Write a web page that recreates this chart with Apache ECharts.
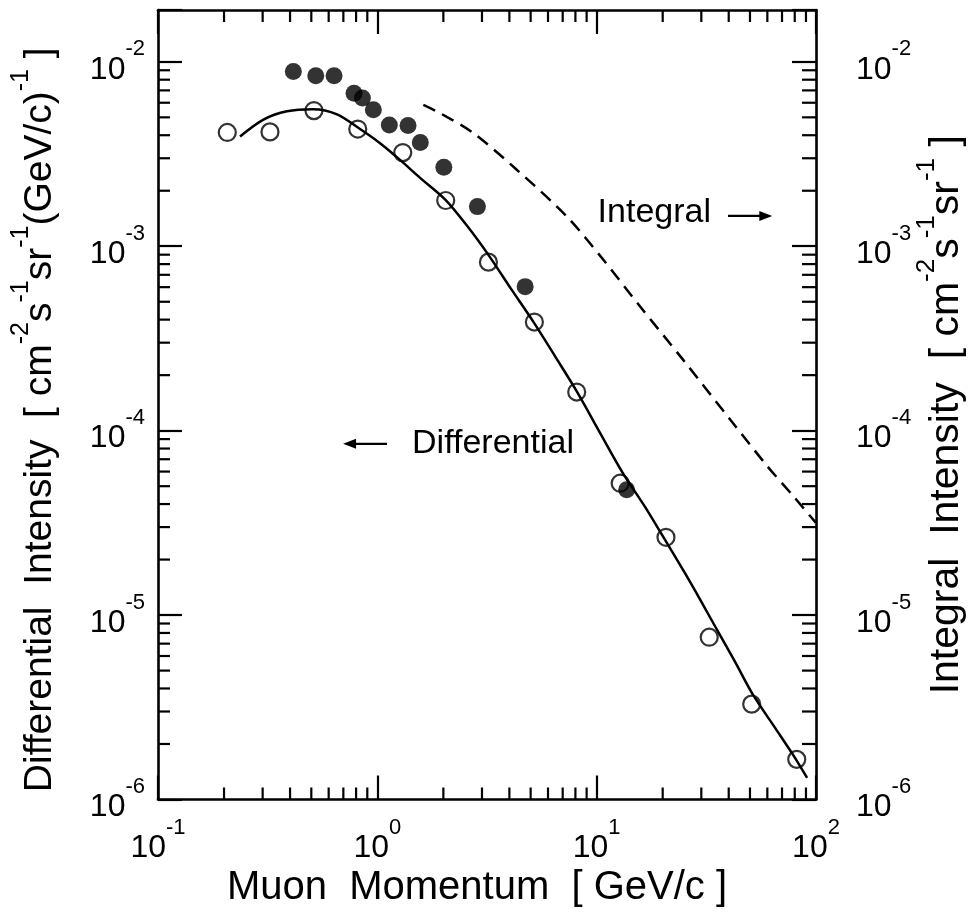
<!DOCTYPE html>
<html><head><meta charset="utf-8">
<script src="https://cdn.jsdelivr.net/npm/echarts@6/dist/echarts.min.js"></script>
<style>html,body{margin:0;padding:0;background:#fff}#c{width:969px;height:913px}</style>
</head><body><div id="c"></div>
<script>
// ---- data ----
const xRange = [0.1, 100];
const yRange = [1e-6, 0.0191];

const openMomentum = [0.207, 0.324, 0.514, 0.814, 1.306, 2.05, 3.21, 5.2, 8.11, 12.8, 20.7, 32.6, 50.9, 81.7];
const openIntensity = [4.14e-3, 4.17e-3, 5.44e-3, 4.32e-3, 3.22e-3, 1.77e-3, 8.2e-4, 3.88e-4, 1.62e-4, 5.19e-5, 2.64e-5, 7.59e-6, 3.29e-6, 1.65e-6];

const filledMomentum = [0.414, 0.524, 0.635, 0.783, 0.855, 0.959, 1.134, 1.38, 1.57, 2.01, 2.86, 4.72, 13.7];
const filledIntensity = [8.86e-3, 8.4e-3, 8.4e-3, 6.76e-3, 6.36e-3, 5.49e-3, 4.55e-3, 4.51e-3, 3.65e-3, 2.68e-3, 1.64e-3, 6.04e-4, 4.78e-5];

const diffCurveMomentum = [0.2366, 0.3012, 0.3875, 0.509, 0.655, 0.834, 1.029, 1.269, 1.566, 2.04, 2.565, 3.232, 4.072, 5.183, 6.53, 8.14, 10.36, 13.06, 16.62, 19.87, 26.66, 35.4, 42.77, 51.67, 65.11, 78.63, 91.09];
const diffCurveIntensity = [3.94e-3, 4.85e-3, 5.39e-3, 5.53e-3, 5.19e-3, 4.32e-3, 3.62e-3, 2.94e-3, 2.35e-3, 1.79e-3, 1.29e-3, 8.87e-4, 5.87e-4, 3.84e-4, 2.48e-4, 1.623e-4, 9.73e-5, 5.98e-5, 3.86e-5, 2.72e-5, 1.514e-5, 8.31e-6, 5.57e-6, 3.69e-6, 2.445e-6, 1.745e-6, 1.31e-6];

const intCurveMomentum = [1.621, 1.932, 2.74, 4.32, 7.31, 10.73, 15.78, 24.8, 40.6, 59.84, 78.63, 100];
const intCurveIntensity = [5.84e-3, 5.27e-3, 4.11e-3, 2.60e-3, 1.45e-3, 8.44e-4, 4.71e-4, 2.42e-4, 1.15e-4, 6.44e-5, 4.43e-5, 3.16e-5];

const xTitle = 'Muon  Momentum  [ GeV/c ]';
const yLeftTitleParts = [['Differential  Intensity  [ cm', '-2'], ['s', '-1'], ['sr', '-1'], ['(GeV/c)', '-1'], [' ]', '']];
const yRightTitleParts = [['Integral  Intensity  [ cm', '-2'], ['s', '-1'], ['sr', '-1'], [' ]', '']];

const integralNote = { text: 'Integral', x: 10.1, y: 1.52e-3 };
const integralArrow = { from: 39.7, to: 63.2, y: 1.46e-3 };
const diffNote = { text: 'Differential', x: 1.44, y: 8.48e-5 };
const diffArrow = { from: 1.107, to: 0.698, y: 8.48e-5 };

// ---- chart ----
const FONT = '"Liberation Sans", Arial, Helvetica, sans-serif';
const zip = (a, b) => a.map((v, i) => [v, b[i]]);

function powLabel(v) {
  const e = Math.log10(v), r = Math.round(e);
  if (Math.abs(e - r) > 1e-6) return '';
  return '{n|10}{s|' + r + '}';
}
const tickRich = {
  n: { fontSize: 32, height: 32, lineHeight: 32, fontFamily: FONT, color: '#000', verticalAlign: 'bottom' },
  s: { fontSize: 22, height: 23, lineHeight: 48, fontFamily: FONT, color: '#000', verticalAlign: 'top', padding: [0, 0, 25, 0] }
};
const nameRich = (fs) => ({
  n: { fontSize: fs, height: fs, lineHeight: fs, fontFamily: FONT, color: '#000', verticalAlign: 'bottom' },
  s: { fontSize: Math.round(fs * 0.64), height: Math.round(fs * 0.7), lineHeight: Math.round(fs * 1.33), fontFamily: FONT, color: '#000', verticalAlign: 'top', padding: [0, 0, Math.round(fs * 0.63), 0] }
});
function richName(parts) {
  return parts.map(p => '{n|' + p[0] + '}' + (p[1] ? '{s|' + p[1] + '}' : '')).join('');
}

const axisLine = { show: true, lineStyle: { color: '#000', width: 2.6 } };
const majorTick = { show: true, inside: true, length: 24, lineStyle: { color: '#000', width: 2.2 } };

const chart = echarts.init(document.getElementById('c'), null, { renderer: 'canvas' });
chart.setOption({
  animation: false,
  backgroundColor: '#fff',
  grid: { left: 158, right: 153, top: 10, bottom: 113.5, containLabel: false, outerBoundsMode: 'none' },
  xAxis: [
    { type: 'log', logBase: 10, min: xRange[0], max: xRange[1], position: 'bottom',
      axisLine, axisTick: majorTick, splitLine: { show: false },
      axisLabel: { formatter: powLabel, margin: 17, rich: tickRich },
      name: xTitle, nameLocation: 'middle', nameGap: 68, nameMoveOverlap: false,
      nameTextStyle: { fontSize: 40, fontFamily: FONT, color: '#000', padding: [0, 20, 0, 0] } },
    { type: 'log', logBase: 10, min: xRange[0], max: xRange[1], position: 'top',
      axisLine, axisTick: majorTick, splitLine: { show: false }, axisLabel: { show: false } }
  ],
  yAxis: [
    { type: 'log', logBase: 10, min: yRange[0], max: yRange[1], position: 'left',
      axisLine, axisTick: majorTick, splitLine: { show: false },
      axisLabel: { formatter: powLabel, margin: 13, rich: tickRich },
      name: richName(yLeftTitleParts), nameLocation: 'middle', nameRotate: 90, nameGap: 98, nameMoveOverlap: false,
      nameTextStyle: { rich: nameRich(39), padding: [0, 30, 0, 0] } },
    { type: 'log', logBase: 10, min: yRange[0], max: yRange[1], position: 'right',
      axisLine, axisTick: majorTick, splitLine: { show: false },
      axisLabel: { formatter: powLabel, margin: 40, rich: tickRich } }
  ],
  series: [
    { type: 'line', xAxisIndex: 0, yAxisIndex: 0, data: zip(diffCurveMomentum, diffCurveIntensity),
      smooth: 0.3, showSymbol: false, lineStyle: { color: '#000', width: 2.5 }, z: 2 },
    { type: 'line', xAxisIndex: 0, yAxisIndex: 1, data: zip(intCurveMomentum, intCurveIntensity),
      smooth: 0.3, showSymbol: false, lineStyle: { color: '#000', width: 2.5, type: [13, 8] }, z: 2 },
    { type: 'scatter', xAxisIndex: 0, yAxisIndex: 0, data: zip(openMomentum, openIntensity),
      symbol: 'circle', symbolSize: 17,
      itemStyle: { color: 'rgba(255,255,255,0)', borderColor: '#000', borderWidth: 2.2 }, z: 3 },
    { type: 'scatter', xAxisIndex: 0, yAxisIndex: 0, data: zip(filledMomentum, filledIntensity),
      symbol: 'circle', symbolSize: 17, itemStyle: { color: '#000' }, z: 4 }
  ]
});

// minor ticks (2..9 in every decade) and annotations, positioned through the axes
function px(v) { return chart.convertToPixel({ xAxisIndex: 0 }, v); }
function py(v) { return chart.convertToPixel({ yAxisIndex: 0 }, v); }
const L = px(xRange[0]), R = px(xRange[1]), B = py(yRange[0]), T = py(yRange[1]);
const g = [];
const ln = (x1, y1, x2, y2) => g.push({ type: 'line', shape: { x1, y1, x2, y2 }, style: { stroke: '#000', lineWidth: 2.2 }, z: 10 });
const MINOR = 12;
for (let e = -1; e < 2; e++) for (let k = 2; k <= 9; k++) {
  const x = px(k * Math.pow(10, e));
  ln(x, B, x, B - MINOR); ln(x, T, x, T + MINOR);
}
for (let e = -6; e < -1; e++) for (let k = 2; k <= 9; k++) {
  const v = k * Math.pow(10, e); if (v > yRange[1]) continue;
  const y = py(v);
  ln(L, y, L + MINOR, y); ln(R, y, R - MINOR - 2, y);
}
function note(n) {
  g.push({ type: 'text', x: px(n.x), y: py(n.y), style: { text: n.text, fill: '#000', fontSize: 34, fontFamily: FONT, verticalAlign: 'middle', align: 'left' }, z: 10 });
}
function arrow(a) {
  const x1 = px(a.from), x2 = px(a.to), y = py(a.y);
  const dir = Math.sign(x2 - x1), head = 13, hw = 5;
  ln(x1, y, x2 - dir * head * 0.6, y);
  g.push({ type: 'polygon', shape: { points: [[x2, y], [x2 - dir * head, y - hw], [x2 - dir * head, y + hw]] }, style: { fill: '#000' }, z: 10 });
}
note(integralNote); arrow(integralArrow);
note(diffNote); arrow(diffArrow);
// right-hand axis title (rotated, with superscripts)
g.push({ type: 'text', x: R + 124, y: (T + B) / 2 + 10, rotation: Math.PI / 2,
  style: { text: richName(yRightTitleParts), rich: nameRich(41), align: 'center', verticalAlign: 'middle' }, z: 10 });
chart.setOption({ graphic: g });
</script></body></html>
